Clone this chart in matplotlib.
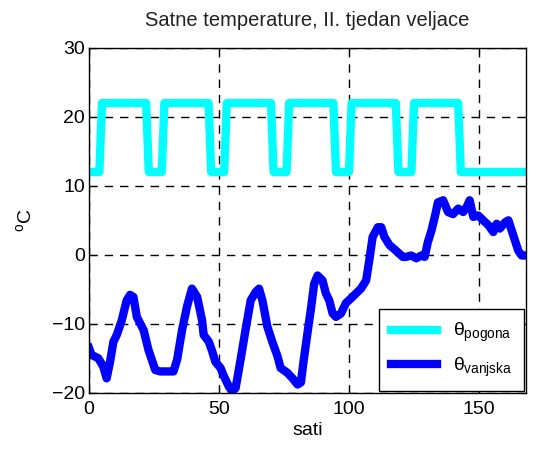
import numpy as np
import matplotlib
matplotlib.use("Agg")
import matplotlib.pyplot as plt

# heating setpoint (theta pogona), hours / degC
pog_h = [0, 4, 5, 22, 23, 28, 29, 46, 47, 52, 53, 70, 71, 76, 77, 94, 95,
         100, 101, 118, 119, 124, 125, 142, 143, 168]
pog_t = [12, 12, 22, 22, 12, 12, 22, 22, 12, 12, 22, 22, 12, 12, 22, 22, 12,
         12, 22, 22, 12, 12, 22, 22, 12, 12]

# outside temperature (theta vanjska)
van_h = [0, 1, 3.6, 5.5, 6.8, 8.1, 9.4, 10.7, 12.6, 14.5, 15.8, 17.1, 18.4,
         21, 22.9, 25.5, 27.4, 32.5, 33.9, 35.8, 37.7, 39.6, 41.6, 43.5,
         44.1, 46.1, 47.4, 48.6, 50.6, 51.9, 53.8, 55.1, 56.4, 58.3, 60.2,
         62.2, 64.1, 65.4, 66.7, 68.6, 70.5, 72.5, 73.7, 76.3, 78.3, 80.2,
         81.5, 82.5, 84, 85.3, 86.6, 87.9, 89.8, 91.1, 92.4, 93.7, 95, 96.9,
         98.8, 100.8, 102.7, 104.6, 106.6, 107.8, 109.1, 111.1, 112.4, 113.6,
         115.6, 118.1, 120.7, 122, 123.9, 125.9, 127.8, 129.1, 130.3, 131.7,
         133, 134.2, 136.2, 138.1, 140, 142, 143.9, 145.2, 146.4, 147.8,
         149.7, 151.6, 153.6, 155.5, 156.8, 158, 160, 161.3, 163.2, 165.1,
         166.4, 168]
van_t = [-13.5, -14.5, -15, -16.2, -17.9, -15.5, -12.6, -11.6, -9.5, -6.6,
         -5.8, -6.1, -9, -10.9, -13.8, -16.7, -16.9, -16.9, -15.2, -10.9,
         -7.5, -4.9, -6.1, -9.5, -11.6, -12.6, -14, -15.5, -16.4, -17.6,
         -19.1, -19.8, -19.3, -15.2, -10.9, -6.6, -5.4, -4.9, -6.6, -10.4,
         -12.6, -14.7, -16.4, -17.1, -17.9, -18.8, -18.5, -15.5, -11.4, -8,
         -4.2, -3.0, -3.7, -5.6, -6.6, -8.5, -9, -8.5, -7, -6.3, -5.6, -4.9,
         -3.7, -0.8, 2.6, 4.0, 4.0, 2.6, 1.4, 0.6, -0.3, -0.3, -0.1, -0.5,
         -0.1, -0.3, 1.8, 3.5, 5.5, 7.6, 7.9, 6.2, 5.9, 6.7, 6.2, 6.9, 7.9,
         5.5, 5.7, 5.0, 4.3, 3.3, 4.5, 3.8, 4.7, 5.0, 2.8, 0.6, -0.1, -0.1]

plt.rcParams['font.family'] = ['Liberation Sans', 'DejaVu Sans']
plt.rcParams['mathtext.fontset'] = 'custom'
plt.rcParams['mathtext.rm'] = 'Liberation Sans'
plt.rcParams['mathtext.it'] = 'Liberation Sans'

fig = plt.figure(figsize=(5.36, 4.51), dpi=100)
ax = fig.add_axes([0.166, 0.129, 0.815, 0.765])

ax.plot(pog_h, pog_t, color=(0, 1, 1), lw=6, label=r'$\theta_{\mathrm{pogona}}$')
ax.plot(van_h, van_t, color=(0, 0, 1), lw=6, label=r'$\theta_{\mathrm{vanjska}}$')

ax.set_xlim(0, 168)
ax.set_ylim(-20, 30)
ax.set_xticks([0, 50, 100, 150])
ax.set_yticks([-20, -10, 0, 10, 20, 30])
ax.tick_params(direction='in', top=True, right=True, labelsize=14, length=5)
ax.tick_params(axis='x', pad=6)
ax.tick_params(axis='y', pad=3)
ax.grid(True, color='black', linestyle=(0, (6, 5)), linewidth=1)
for s in ax.spines.values():
    s.set_linewidth(1)

ax.set_title('Satne temperature, II. tjedan veljace', fontsize=14.5, color='#222222', pad=16)
ax.set_xlabel('sati', fontsize=14, labelpad=3)
ax.set_ylabel(r'$^{\mathrm{o}}$C', fontsize=14, labelpad=12)

leg = ax.legend(loc='lower right', fontsize=14, fancybox=False, framealpha=1,
                edgecolor='black', borderaxespad=0.1, handlelength=2.4,
                borderpad=0.6, labelspacing=0.6)
leg.get_frame().set_linewidth(1)

fig.savefig('out.png', dpi=100)
